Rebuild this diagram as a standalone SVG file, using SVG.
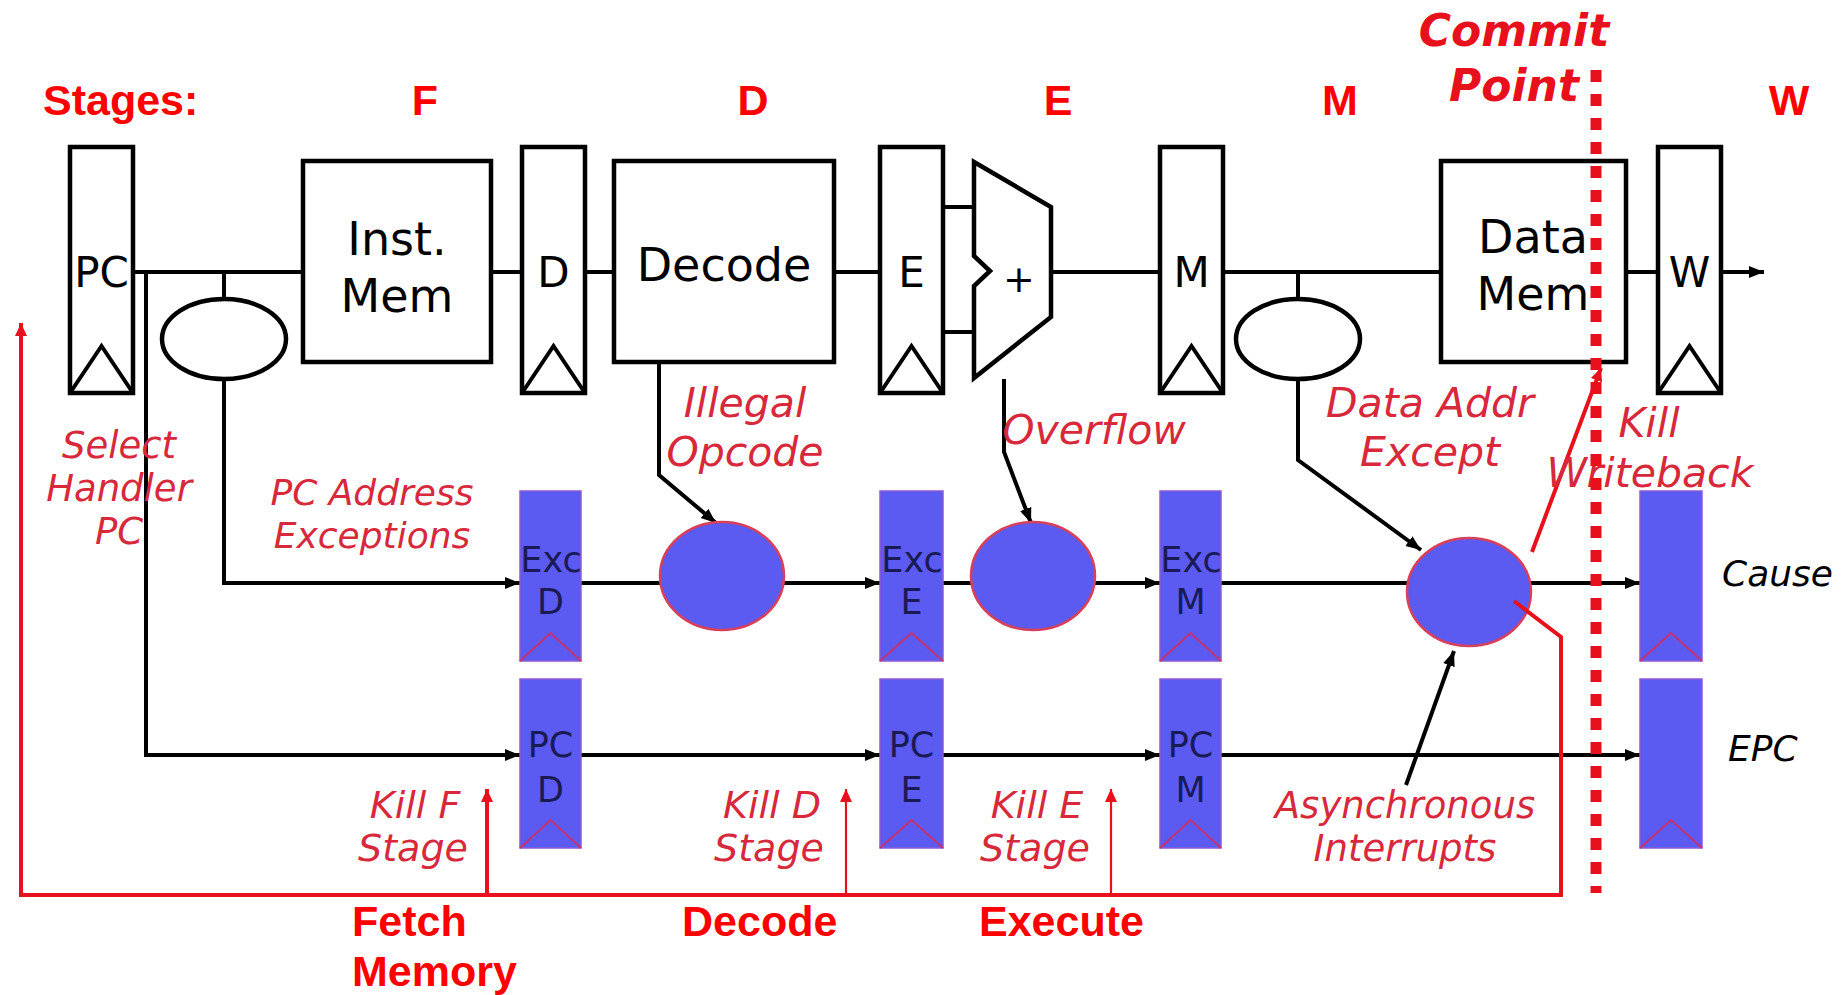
<svg xmlns="http://www.w3.org/2000/svg" width="1841" height="995" viewBox="0 0 1841 995">
<defs>
<style>
.reg{fill:#fff;stroke:#000;stroke-width:4.5}
.box{fill:#fff;stroke:#000;stroke-width:4.5}
.w{fill:none;stroke:#000;stroke-width:4}
.rw{fill:none;stroke:#e8101c;stroke-width:4}
.rt{fill:none;stroke:#e8101c;stroke-width:2.2}
.breg{fill:#5b5bf2;stroke:#8a5ad8;stroke-width:1.5}
.chev{fill:none;stroke:#c43272;stroke-width:2}
.bell{fill:#5b5bf2;stroke:#d8405a;stroke-width:2.5}
.lbl{font-family:"DejaVu Sans",Verdana,sans-serif;fill:#000;text-anchor:middle}
.blbl{font-family:"DejaVu Sans",Verdana,sans-serif;fill:#1a1a55;text-anchor:middle;font-size:35px}
.it{font-family:"DejaVu Sans",Verdana,sans-serif;font-style:italic;fill:#d8283c;text-anchor:middle;font-size:36px}
.itl{font-size:41px}
.bd{font-family:"Liberation Sans",Arial,sans-serif;font-weight:bold;fill:#ff0000;font-size:43px}
</style>
<marker id="ab" markerUnits="userSpaceOnUse" markerWidth="16" markerHeight="14" refX="15" refY="7" orient="auto"><path d="M0,1 L15,7 L0,13 z" fill="#000"/></marker>
<marker id="ar" markerUnits="userSpaceOnUse" markerWidth="14" markerHeight="14" refX="13" refY="7" orient="auto"><path d="M0,1 L13,7 L0,13 z" fill="#e8101c"/></marker>
</defs>
<rect width="1841" height="995" fill="#fff"/>

<g id="stage-labels">
<text class="bd" x="43" y="115">Stages:</text>
<text class="bd" x="425" y="115" text-anchor="middle">F</text>
<text class="bd" x="753" y="115" text-anchor="middle">D</text>
<text class="bd" x="1058" y="115" text-anchor="middle">E</text>
<text class="bd" x="1340" y="115" text-anchor="middle">M</text>
<text class="bd" x="1789" y="115" text-anchor="middle">W</text>
</g>

<g id="connectors">
<path class="w" d="M133,272 H303 M224,272 V299 M491,272 H522 M585,272 H614 M834,272 H880 M943,207 H974 M943,332 H974 M1051,272 H1160 M1223,272 H1441 M1298,272 V299 M1626,272 H1658"/>
<path class="w" d="M1721,272 H1764" marker-end="url(#ab)"/>
<path class="w" d="M224,378 V583 H520" marker-end="url(#ab)"/>
<path class="w" d="M146,272 V755 H520" marker-end="url(#ab)"/>
<path class="w" d="M581,583 H880" marker-end="url(#ab)"/>
<path class="w" d="M943,583 H1160" marker-end="url(#ab)"/>
<path class="w" d="M1221,583 H1640" marker-end="url(#ab)"/>
<path class="w" d="M581,755 H880" marker-end="url(#ab)"/>
<path class="w" d="M943,755 H1160" marker-end="url(#ab)"/>
<path class="w" d="M1221,755 H1640" marker-end="url(#ab)"/>
<path class="w" d="M659,362 V475 L716,523" marker-end="url(#ab)"/>
<path class="w" d="M1004,379 V452 L1031,523" marker-end="url(#ab)"/>
<path class="w" d="M1298,378 V460 L1421,550" marker-end="url(#ab)"/>
<path class="w" d="M1406,785 L1454,651" marker-end="url(#ab)"/>
</g>

<g id="pc"><rect class="reg" x="70" y="147" width="63" height="246"/><path class="w" d="M70,393 L101.5,346 L133,393"/><text class="lbl" x="101.5" y="287" font-size="42">PC</text></g>
<g id="pc-adder-ellipse"><ellipse fill="#fff" stroke="#000" stroke-width="4.5" cx="224" cy="339" rx="62" ry="40"/></g>
<g id="inst-mem"><rect class="box" x="303" y="161" width="188" height="201"/><text class="lbl" x="397" y="255" font-size="46">Inst.</text><text class="lbl" x="397" y="312" font-size="46">Mem</text></g>
<g id="d-reg"><rect class="reg" x="522" y="147" width="63" height="246"/><path class="w" d="M522,393 L553.5,346 L585,393"/><text class="lbl" x="553.5" y="287" font-size="42">D</text></g>
<g id="decode"><rect class="box" x="614" y="161" width="220" height="201"/><text class="lbl" x="724" y="281" font-size="46">Decode</text></g>
<g id="e-reg"><rect class="reg" x="880" y="147" width="63" height="246"/><path class="w" d="M880,393 L911.5,346 L943,393"/><text class="lbl" x="911.5" y="287" font-size="42">E</text></g>
<g id="adder"><path fill="#fff" stroke="#000" stroke-width="4.5" stroke-linejoin="miter" d="M974,162 L1051,207 L1051,317 L974,378 L974,286 L990,271 L974,256 Z"/><text class="lbl" x="1019" y="292" font-size="38">+</text></g>
<g id="m-reg"><rect class="reg" x="1160" y="147" width="63" height="246"/><path class="w" d="M1160,393 L1191.5,346 L1223,393"/><text class="lbl" x="1191.5" y="287" font-size="42">M</text></g>
<g id="data-addr-ellipse"><ellipse fill="#fff" stroke="#000" stroke-width="4.5" cx="1298" cy="339" rx="62" ry="40"/></g>
<g id="data-mem"><rect class="box" x="1441" y="161" width="185" height="201"/><text class="lbl" x="1533" y="253" font-size="46">Data</text><text class="lbl" x="1533" y="310" font-size="46">Mem</text></g>
<g id="w-reg"><rect class="reg" x="1658" y="147" width="63" height="246"/><path class="w" d="M1658,393 L1689.5,346 L1721,393"/><text class="lbl" x="1689.5" y="287" font-size="42">W</text></g>

<g id="exc-d"><rect class="breg" x="520" y="491" width="61" height="170"/><path class="chev" d="M520,661 L550.5,633 L581,661"/><text class="blbl" x="551" y="572">Exc</text><text class="blbl" x="550.5" y="614">D</text></g>
<g id="pc-d"><rect class="breg" x="520" y="679" width="61" height="169"/><path class="chev" d="M520,848 L550.5,820 L581,848"/><text class="blbl" x="550.5" y="757">PC</text><text class="blbl" x="550.5" y="802">D</text></g>
<g id="exc-e"><rect class="breg" x="880" y="491" width="63" height="170"/><path class="chev" d="M880,661 L911.5,633 L943,661"/><text class="blbl" x="912" y="572">Exc</text><text class="blbl" x="911.5" y="614">E</text></g>
<g id="pc-e"><rect class="breg" x="880" y="679" width="63" height="169"/><path class="chev" d="M880,848 L911.5,820 L943,848"/><text class="blbl" x="911.5" y="757">PC</text><text class="blbl" x="911.5" y="802">E</text></g>
<g id="exc-m"><rect class="breg" x="1160" y="491" width="61" height="170"/><path class="chev" d="M1160,661 L1190.5,633 L1221,661"/><text class="blbl" x="1191" y="572">Exc</text><text class="blbl" x="1190.5" y="614">M</text></g>
<g id="pc-m"><rect class="breg" x="1160" y="679" width="61" height="169"/><path class="chev" d="M1160,848 L1190.5,820 L1221,848"/><text class="blbl" x="1190.5" y="757">PC</text><text class="blbl" x="1190.5" y="802">M</text></g>
<g id="cause"><rect class="breg" x="1640" y="491" width="62" height="170"/><path class="chev" d="M1640,661 L1671,633 L1702,661"/></g>
<g id="epc"><rect class="breg" x="1640" y="679" width="62" height="169"/><path class="chev" d="M1640,848 L1671,820 L1702,848"/></g>
<g id="illegal-check"><ellipse class="bell" cx="722" cy="576" rx="62" ry="54"/></g>
<g id="overflow-check"><ellipse class="bell" cx="1033" cy="576" rx="62" ry="54"/></g>
<g id="cause-mux"><ellipse class="bell" cx="1469" cy="592" rx="62" ry="54"/></g>

<g id="red-connectors">
<path class="rw" d="M1514,601 L1561,637 V895 H21 V323" marker-end="url(#ar)"/>
<path class="rw" d="M487,895 V789" marker-end="url(#ar)"/>
<path class="rt" d="M846,895 V789" marker-end="url(#ar)"/>
<path class="rt" d="M1111,895 V789" marker-end="url(#ar)"/>
<path class="rw" d="M1532,552 L1601,368" marker-end="url(#ar)"/>
</g>

<g id="labels">
<text class="it" style="font-size:37px"><tspan x="119" y="458">Select</tspan><tspan x="119" y="501">Handler</tspan><tspan x="119" y="544">PC</tspan></text>
<text class="it"><tspan x="372" y="505">PC Address</tspan><tspan x="372" y="548">Exceptions</tspan></text>
<text class="it itl"><tspan x="745" y="417">Illegal</tspan><tspan x="745" y="466">Opcode</tspan></text>
<text class="it itl" x="1094" y="444">Overflow</text>
<text class="it itl"><tspan x="1430" y="417">Data Addr</tspan><tspan x="1430" y="466">Except</tspan></text>
<text class="it itl"><tspan x="1649" y="437">Kill</tspan><tspan x="1650" y="487">Writeback</tspan></text>
<text class="it" style="font-size:38px"><tspan x="415" y="818">Kill F</tspan><tspan x="413" y="861">Stage</tspan></text>
<text class="it" style="font-size:38px"><tspan x="772" y="818">Kill D</tspan><tspan x="769" y="861">Stage</tspan></text>
<text class="it" style="font-size:38px"><tspan x="1037" y="818">Kill E</tspan><tspan x="1035" y="861">Stage</tspan></text>
<text class="it" style="font-size:37px"><tspan x="1405" y="818">Asynchronous</tspan><tspan x="1405" y="861">Interrupts</tspan></text>
<text class="it" style="fill:#000;text-anchor:start" x="1722" y="586">Cause</text>
<text class="it" style="fill:#000;text-anchor:start" x="1728" y="761">EPC</text>
<text class="bd" x="352" y="936">Fetch</text>
<text class="bd" x="352" y="986">Memory</text>
<text class="bd" x="682" y="936">Decode</text>
<text class="bd" x="979" y="936">Execute</text>
<text font-family="'DejaVu Sans',Verdana,sans-serif" font-weight="bold" font-style="italic" font-size="44" fill="#e8101c" text-anchor="middle"><tspan x="1514" y="46">Commit</tspan><tspan x="1514" y="101">Point</tspan></text>
</g>

<g id="commit-line"><path d="M1596,70 V893" stroke="#e8101c" stroke-width="11" stroke-dasharray="12 12" fill="none"/></g>
</svg>
